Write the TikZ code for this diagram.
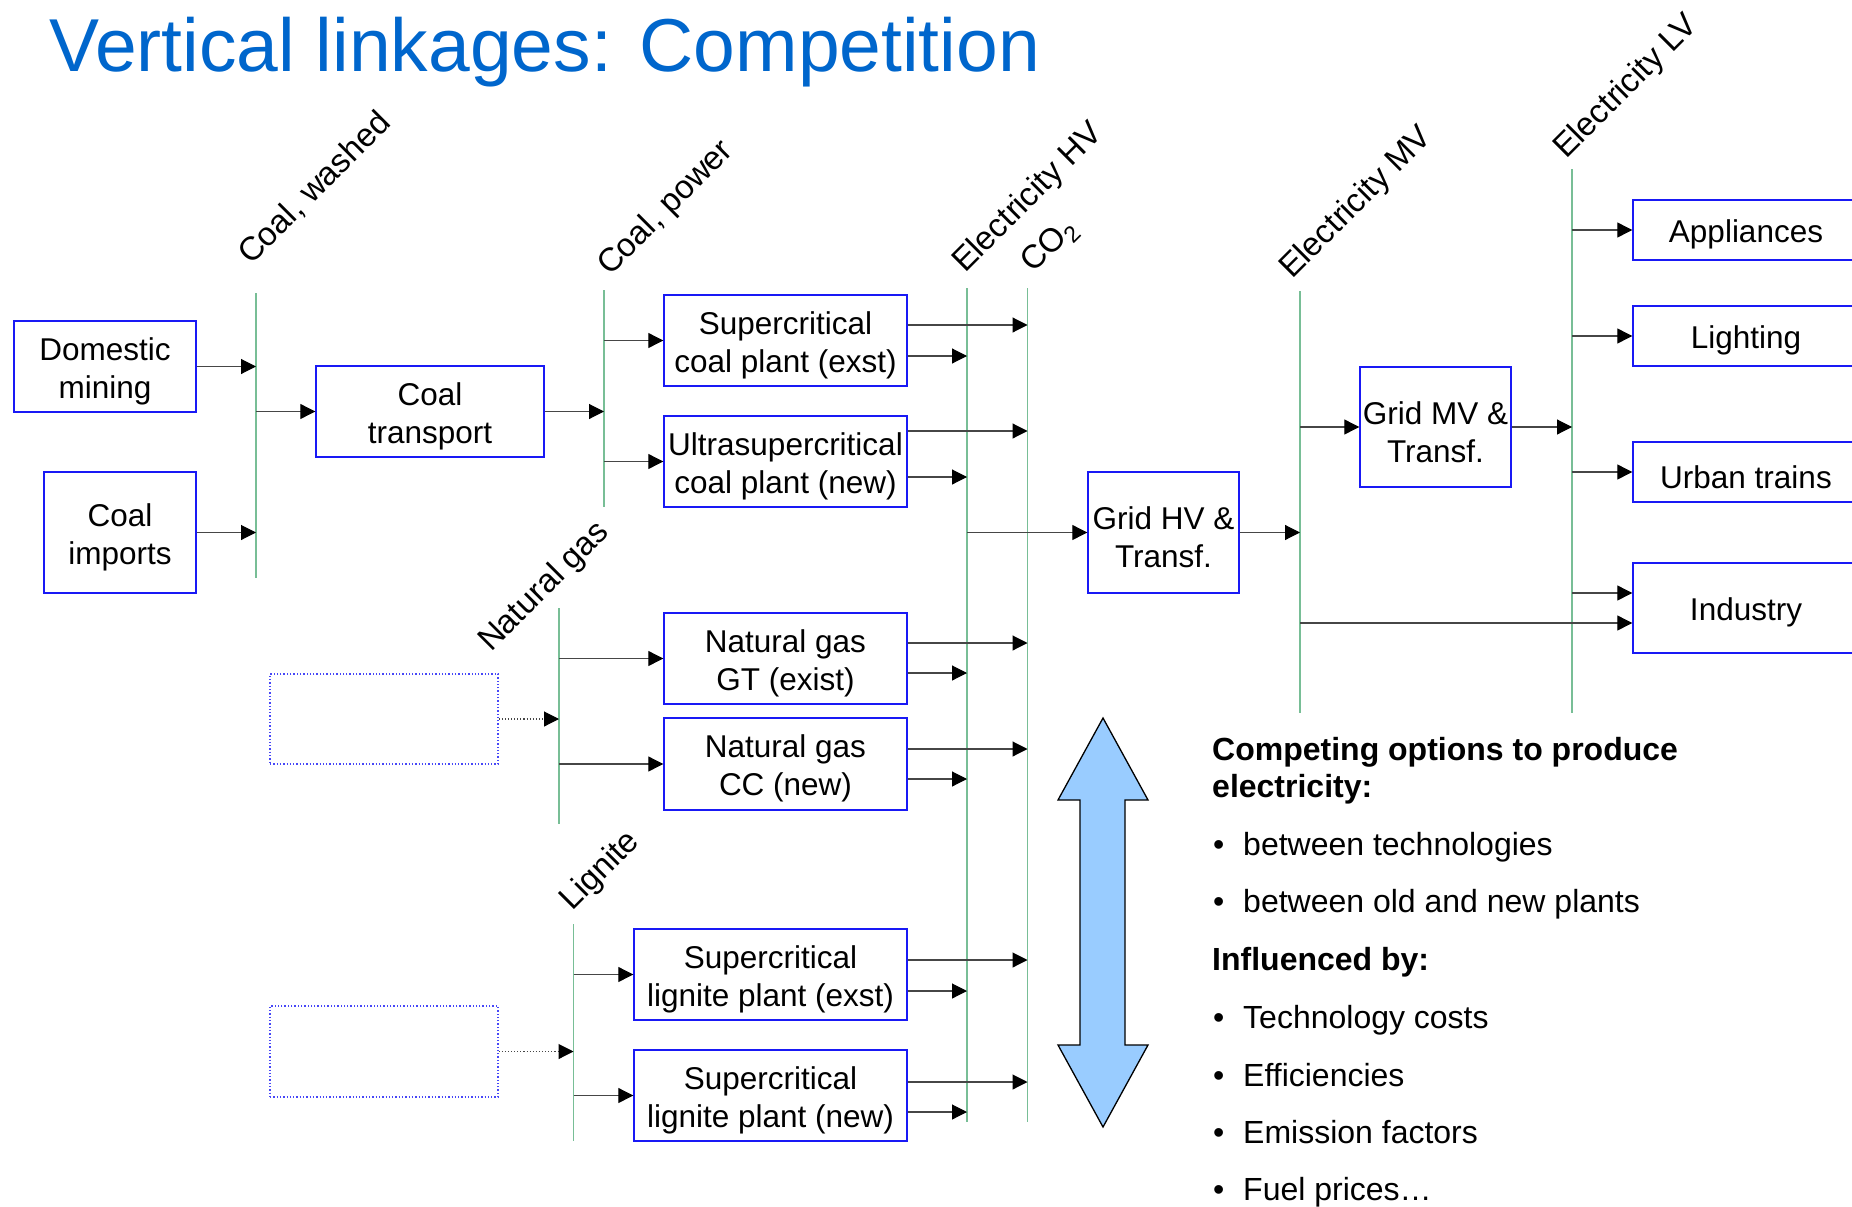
\documentclass[tikz,border=0pt]{standalone}
\usepackage{fontspec}
\setmainfont{Liberation Sans}
\usetikzlibrary{arrows.meta}
\definecolor{titleblue}{RGB}{0,102,204}
\definecolor{boxblue}{RGB}{25,25,245}
\definecolor{busgreen}{RGB}{120,190,150}
\definecolor{arrowfill}{RGB}{153,204,255}
\definecolor{conn}{RGB}{70,70,70}
\newcommand\bxfont{\fontsize{31.5}{38}\selectfont}
\newcommand\labfont{\fontsize{33}{40}\selectfont}
\newcommand\listfont{\fontsize{32}{38}\selectfont}
\newcommand\titlefont{\fontsize{75}{90}\selectfont}
\newcommand\bxstrut{\rule{0pt}{32.5pt}}
\newcommand\plantout[3]{%
  \path (#1.east) ++(0,#2) coordinate (#1u) (#1.east) ++(0,#3) coordinate (#1d);
  \draw[arr] (#1u) -- (#1u -| CO2t);
  \draw[arr] (#1d) -- (#1d -| HVt);}
\begin{document}
\begin{tikzpicture}[x=1pt,y=-1pt,
  box/.style={draw=boxblue, line width=1.4pt, inner sep=0pt, align=center, font=\bxfont},
  ghost/.style={draw=boxblue!80, dotted, line width=1.3pt, inner sep=0pt},
  bus/.style={draw=busgreen, line width=1.5pt},
  arr/.style={draw=conn, line width=1.1pt, -{Triangle[length=15pt,width=15pt,color=black]}},
  darr/.style={arr, dotted},
  lab/.style={rotate=45, anchor=base west, inner sep=0pt, font=\labfont},
  txt/.style={anchor=base west, inner sep=0pt, font=\listfont},
]
\useasboundingbox (0,0) rectangle (1852,1207);
\clip (0,0) rectangle (1852,1207);

% title
\node[anchor=base west, inner sep=0pt, font=\titlefont, text=titleblue] (title) at (49,71) {Vertical linkages: Competition};

% bus lines
\coordinate (L1t) at (256,293);   \coordinate (L1b) at (256,578);
\coordinate (L2t) at (604,290);   \coordinate (L2b) at (604,507);
\coordinate (HVt) at (967,288);   \coordinate (HVb) at (967,1122);
\coordinate (CO2t) at (1027.5,288); \coordinate (CO2b) at (1027.5,1122);
\coordinate (MVt) at (1300,291);  \coordinate (MVb) at (1300,713);
\coordinate (LVt) at (1572,169);  \coordinate (LVb) at (1572,713);
\coordinate (NGt) at (559,608);   \coordinate (NGb) at (559,824);
\coordinate (LGt) at (573.5,924); \coordinate (LGb) at (573.5,1141);
\foreach \a in {L1,L2,HV,CO2,MV,LV,NG,LG} \draw[bus] (\a t) -- (\a b);

% bus labels
\node[lab] (labL1) at (251,266) {Coal, washed};
\node[lab] (labL2) at (610,277) {Coal, power};
\node[lab] (labHV) at (965,274) {Electricity HV};
\node[lab] (labCO2) at (1033,274) {CO\textsubscript{2}};
\node[lab] (labMV) at (1292,280) {Electricity MV};
\node[lab] (labLV) at (1566,160) {Electricity LV};
\node[lab] (labNG) at (491,653) {Natural gas};
\node[lab] (labLG) at (572,912) {Lignite};

% boxes
\node[box, minimum width=182pt, minimum height=91pt] (dom) at (105,366.5) {\bxstrut Domestic\\mining};
\node[box, minimum width=152pt, minimum height=121pt] (imp) at (120,532.5) {\bxstrut Coal\\imports};
\node[box, minimum width=228pt, minimum height=91pt] (trans) at (430,411.5) {\bxstrut Coal\\transport};
\node[box, minimum width=243pt, minimum height=91pt] (sc) at (785.5,340.5) {\bxstrut Supercritical\\coal plant (exst)};
\node[box, minimum width=243pt, minimum height=91pt] (usc) at (785.5,461.5) {\bxstrut Ultrasupercritical\\coal plant (new)};
\node[box, minimum width=243pt, minimum height=91pt] (gt) at (785.5,658.5) {\bxstrut Natural gas\\GT (exist)};
\node[box, minimum width=243pt, minimum height=92pt] (cc) at (785.5,764) {\bxstrut Natural gas\\CC (new)};
\node[box, minimum width=273pt, minimum height=91pt] (slx) at (770.5,974.5) {\bxstrut Supercritical\\lignite plant (exst)};
\node[box, minimum width=273pt, minimum height=91pt] (sln) at (770.5,1095.5) {\bxstrut Supercritical\\lignite plant (new)};
\node[box, minimum width=151pt, minimum height=121pt] (ghv) at (1163.5,532.5) {\bxstrut Grid HV \&\\Transf.};
\node[box, minimum width=151pt, minimum height=120pt] (gmv) at (1435.5,427) {\bxstrut Grid MV \&\\Transf.};
\node[box, minimum width=226pt, minimum height=60pt] (app) at (1746,230) {\bxstrut Appliances};
\node[box, minimum width=226pt, minimum height=60pt] (lig) at (1746,336) {\bxstrut Lighting};
\node[box, minimum width=226pt, minimum height=60pt] (urb) at (1746,472) {\bxstrut Urban trains};
\node[box, minimum width=226pt, minimum height=90pt] (ind) at (1746,608) {\bxstrut Industry};
\node[ghost, minimum width=228pt, minimum height=90pt] (dot1) at (384,719) {};
\node[ghost, minimum width=228pt, minimum height=91pt] (dot2) at (384,1051.5) {};

% connectors: coal chain
\draw[arr] (dom.east) -- (dom.east -| L1t);
\draw[arr] (imp.east) -- (imp.east -| L1t);
\draw[arr] (L1t |- trans.west) -- (trans.west);
\draw[arr] (trans.east) -- (trans.east -| L2t);
\draw[arr] (L2t |- sc.west) -- (sc.west);
\draw[arr] (L2t |- usc.west) -- (usc.west);
% gas
\draw[darr] (dot1.east) -- (dot1.east -| NGt);
\draw[arr] (NGt |- gt.west) -- (gt.west);
\draw[arr] (NGt |- cc.west) -- (cc.west);
% lignite
\draw[darr] (dot2.east) -- (dot2.east -| LGt);
\draw[arr] (LGt |- slx.west) -- (slx.west);
\draw[arr] (LGt |- sln.west) -- (sln.west);
% plant outputs
\plantout{sc}{-15.5}{15.5}
\plantout{usc}{-30.5}{15.5}
\plantout{gt}{-15.5}{14.5}
\plantout{cc}{-15}{15}
\plantout{slx}{-14.5}{16.5}
\plantout{sln}{-13.5}{16.5}
% grid
\draw[arr] (HVt |- ghv.west) -- (ghv.west);
\draw[arr] (ghv.east) -- (ghv.east -| MVt);
\draw[arr] (MVt |- gmv.west) -- (gmv.west);
\draw[arr] (gmv.east) -- (gmv.east -| LVt);
\draw[arr] (LVt |- app.west) -- (app.west);
\draw[arr] (LVt |- lig.west) -- (lig.west);
\draw[arr] (LVt |- urb.west) -- (urb.west);
\path (ind.west) ++(0,-15) coordinate (ind1) (ind.west) ++(0,15) coordinate (ind2);
\draw[arr] (LVt |- ind1) -- (ind1);
\draw[arr] (MVt |- ind2) -- (ind2);

% big double arrow
\draw[fill=arrowfill, draw=black, line width=1.3pt, line join=miter]
  (1103,718) -- (1148,800) -- (1125,800) -- (1125,1045) -- (1148,1045) -- (1103,1127)
  -- (1058,1045) -- (1080,1045) -- (1080,800) -- (1058,800) -- cycle;

% text block
\node[txt, font=\listfont\bfseries] (h1) at (1212,760) {Competing options to produce};
\node[txt, font=\listfont\bfseries] (h2) at (1212,797) {electricity:};
\node[txt] (b1) at (1213,855) {\textbullet};
\node[txt] (t1) at (1243,855) {between technologies};
\node[txt] (b2) at (1213,912) {\textbullet};
\node[txt] (t2) at (1243,912) {between old and new plants};
\node[txt, font=\listfont\bfseries] (h3) at (1212,970) {Influenced by:};
\node[txt] (b3) at (1213,1028) {\textbullet};
\node[txt] (t3) at (1243,1028) {Technology costs};
\node[txt] (b4) at (1213,1086) {\textbullet};
\node[txt] (t4) at (1243,1086) {Efficiencies};
\node[txt] (b5) at (1213,1143) {\textbullet};
\node[txt] (t5) at (1243,1143) {Emission factors};
\node[txt] (b6) at (1213,1200) {\textbullet};
\node[txt] (t6) at (1243,1200) {Fuel prices…};
\end{tikzpicture}
\end{document}
